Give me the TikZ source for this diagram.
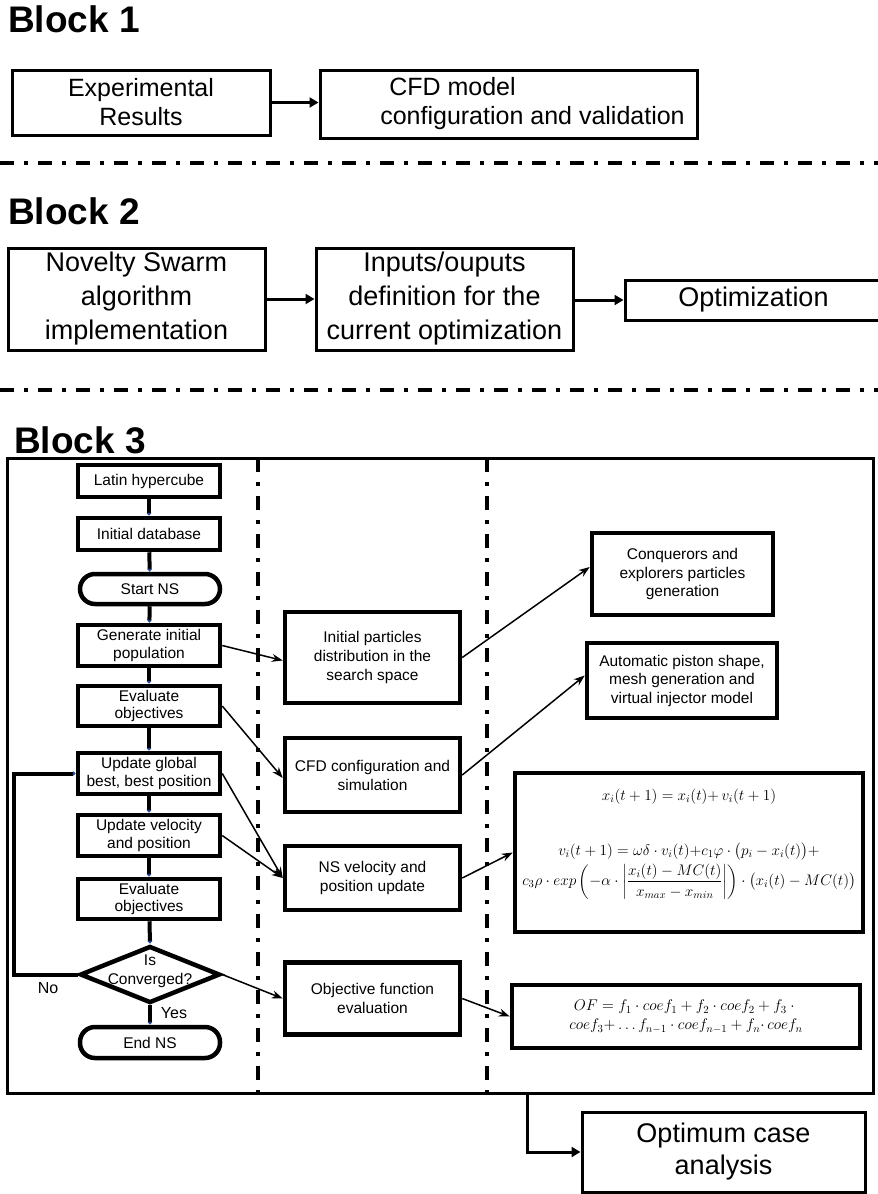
\RequirePackage{fix-cm}
\documentclass[tikz,border=0pt]{standalone}
\usepackage{amsmath}
\usepackage[no-math]{fontspec}
\setmainfont{Liberation Sans}
\usetikzlibrary{arrows.meta,shapes.geometric,calc}
\definecolor{tipblue}{RGB}{40,70,140}

\tikzset{
  sect/.style={font=\bfseries\fontsize{37}{42}\selectfont, anchor=west, inner sep=0pt},
  topbox/.style={draw, line width=3pt, align=center, inner sep=0pt},
  t25/.style={font=\fontsize{25}{29}\selectfont},
  t27/.style={font=\fontsize{27}{34}\selectfont},
  flowbox/.style={draw, line width=4.5pt, align=center, inner sep=0pt,
    minimum width=142pt, font=\fontsize{15.5}{17.5}\selectfont},
  term/.style={flowbox, rounded corners=15pt, minimum width=140pt},
  decision/.style={draw, line width=4.5pt, diamond, inner sep=0pt,
    minimum width=140pt, minimum height=57pt},
  midbox/.style={draw, line width=4.5pt, align=center, inner sep=0pt,
    minimum width=175pt, font=\fontsize{15.5}{19}\selectfont},
  rightbox/.style={draw, line width=4.5pt, align=center, inner sep=0pt,
    font=\fontsize{15.5}{18.5}\selectfont},
  mathtext/.style={align=center, inner sep=0pt, font=\fontsize{15.3}{19}\selectfont},
  divider/.style={line width=3.5pt, dash pattern=on 14pt off 10pt on 4pt off 10pt},
  bigarrow/.style={line width=3pt, -{Triangle[length=9pt,width=10pt]}},
  flow/.style={line width=4pt, -{Triangle[length=3pt,width=5pt,color=tipblue,fill=tipblue]}},
  link/.style={line width=1.5pt, -{Stealth[length=11pt,width=8pt]}},
  lbl/.style={font=\fontsize{16}{19}\selectfont, inner sep=0pt},
}

\begin{document}
\begin{tikzpicture}[x=1pt,y=-1pt]
\useasboundingbox (0,0) rectangle (878,1194);

% ---------------- Block 1 ----------------
\node[sect] (title1) at (8,19) {Block 1};
\node[topbox, t25, minimum width=258pt, minimum height=65pt] (exp) at (141,102.5) {Experimental\\Results};
\node[topbox, minimum width=377pt, minimum height=68pt] (cfdm) at (508.5,104) {};
\node[t25, align=left, inner sep=0pt] (cfdmtext) at (532.5,104) {\hspace*{9pt}CFD model\\configuration and validation};
\draw[bigarrow] (exp.east) -- (exp.east -| cfdm.west);

\draw[divider] (0,163) -- (878,163);

% ---------------- Block 2 ----------------
\node[sect] (title2) at (8,211) {Block 2};
\node[topbox, t27, minimum width=257pt, minimum height=102pt] (nsalg) at (136.5,299) {Novelty Swarm\\algorithm\\implementation};
\node[topbox, t27, minimum width=257pt, minimum height=102pt] (iodef) at (444.5,299) {Inputs/ouputs\\definition for the\\current optimization};
\node[topbox, t27, minimum width=257pt, minimum height=40pt] (optim) at (753.5,300) {Optimization};
\draw[bigarrow] (nsalg.east) -- (nsalg.east -| iodef.west);
\draw[bigarrow] (iodef.east |- optim.west) -- (optim.west);

\draw[divider] (0,390) -- (878,390);

% ---------------- Block 3 ----------------
\node[sect] (title3) at (14,440) {Block 3};
\node[draw, line width=3pt, inner sep=0pt, minimum width=866pt, minimum height=635pt] (frame) at (440,775.5) {};
\draw[divider] (258,458) -- (258,1093);
\draw[divider] (487,458) -- (487,1093);

% NS flowchart
\node[flowbox, minimum height=32pt] (lh) at (149,481) {Latin hypercube};
\node[flowbox, minimum height=32pt] (db) at (149,534) {Initial database};
\node[term, minimum height=30pt] (start) at (150,589) {Start NS};
\node[flowbox, minimum height=41pt] (gen) at (149,645.5) {Generate initial\\population};
\node[flowbox, minimum height=40pt] (ev1) at (149,706) {Evaluate\\objectives};
\node[flowbox, minimum height=41pt] (upd) at (149,773.5) {Update global\\best, best position};
\node[flowbox, minimum height=41pt] (vel) at (149,835.5) {Update velocity\\and position};
\node[flowbox, minimum height=40pt] (ev2) at (149,899) {Evaluate\\objectives};
\node[decision] (conv) at (150,974.5) {};
\node[lbl, align=center, font=\fontsize{15.5}{19}\selectfont] (convtext) at (150,971) {Is\\Converged?};
\node[term, minimum height=31pt] (stop) at (150,1042.5) {End NS};

\draw[flow] (lh) -- (db);
\draw[flow] (db) -- (start);
\draw[flow] (start) -- (gen);
\draw[flow] (gen) -- (ev1);
\draw[flow] (ev1) -- (upd);
\draw[flow] (upd) -- (vel);
\draw[flow] (vel) -- (ev2);
\draw[flow] (ev2) -- (conv.north);
\draw[flow] (conv.south) -- (stop);
\draw[flow] (conv.west) -- ++(-64,0) coordinate (loopcorner) |- (upd.west);
\node[lbl] (nolbl) at (48,988) {No};
\node[lbl] (yeslbl) at (174,1013) {Yes};

% middle column
\node[midbox, minimum height=91pt] (ip) at (372.5,657.5) {Initial particles\\distribution in the\\search space};
\node[midbox, minimum height=74pt] (cfd) at (372.5,775) {CFD configuration and\\simulation};
\node[midbox, minimum height=64pt] (nsv) at (372.5,878) {NS velocity and\\position update};
\node[midbox, minimum height=72pt] (obj) at (372.5,998.5) {Objective function\\evaluation};

\draw[link] (gen.east) -- ($(ip.west)+(0,3)$);
\draw[link] (ev1.east) -- ($(cfd.west)+(0,3)$);
\draw[link] (upd.east) -- (nsv.west);
\draw[link] (vel.east) -- (nsv.west);
\draw[link] (conv.east) -- (obj.west);

% right column
\node[rightbox, minimum width=181pt, minimum height=82pt] (conq) at (682.5,574) {Conquerors and\\explorers particles\\generation};
\node[rightbox, minimum width=190pt, minimum height=75pt] (auto) at (682,680.5) {Automatic piston shape,\\mesh generation and\\virtual injector model};
\node[rightbox, minimum width=348pt, minimum height=159pt] (eq) at (689,852.5) {};
\node[mathtext] (eqtext) at (689,844) {%
  $x_i(t+1) = x_i(t){+}\,v_i(t+1)$\\[36pt]
  $v_i(t+1) = \omega\delta\cdot v_i(t){+}c_1\varphi\cdot\bigl(p_i - x_i(t)\bigr) +$\\[2pt]
  $c_3\rho\cdot exp\left(-\alpha\cdot\left|\dfrac{x_i(t)-MC(t)}{x_{max}-x_{min}}\right|\right)\cdot\bigl(x_i(t)-MC(t)\bigr)$};
\node[rightbox, minimum width=348pt, minimum height=63pt, font=\fontsize{15.5}{19}\selectfont] (of) at (686,1016.5)
  {$OF = f_1\cdot coef_1 + f_2\cdot coef_2 + f_3\cdot{}$\\
   $coef_3{+}\ldots f_{n-1}\cdot coef_{n-1} + f_n{\cdot}\,coef_n$};

\draw[link] (ip.east) -- ($(conq.west)+(0,-7)$);
\draw[link] (cfd.east) -- ($(auto.west)+(0,-5)$);
\draw[link] (nsv.east) -- (eq.west);
\draw[link] (obj.east) -- (of.west);

% final step
\node[topbox, font=\fontsize{27}{32}\selectfont, minimum width=283pt, minimum height=80pt] (opt) at (723.5,1152) {Optimum case\\analysis};
\draw[bigarrow] ($(frame.south)+(87,0)$) |- (opt.west);
\end{tikzpicture}
\end{document}
